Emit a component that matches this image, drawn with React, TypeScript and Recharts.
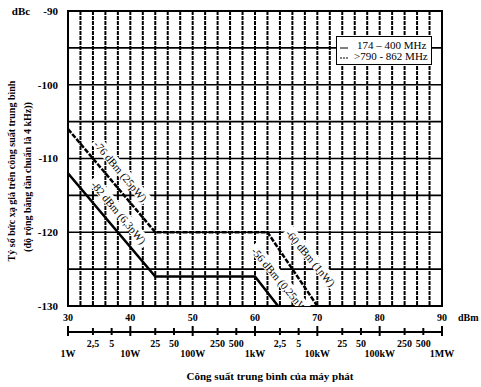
import {
  LineChart,
  Line,
  XAxis,
  YAxis,
  CartesianGrid,
  ReferenceArea,
  Legend,
} from "recharts";

// grid / axis values
const gridX = [32, 34, 36, 38, 40, 42, 44, 46, 48, 50, 52, 54, 56, 58, 60, 62, 64, 66, 68, 70, 72, 74, 76, 78, 80, 82, 84, 86, 88];
const gridY = [-125, -120, -115, -110, -105, -100, -95];
const yTicks = [-130, -120, -110, -100, -90];
const dbmTicks = [30, 40, 50, 60, 70, 80, 90];
const powerLabels = ["1W", "10W", "100W", "1kW", "10kW", "100kW", "1MW"];
const minorDbm = [34, 37, 44, 47, 54, 57, 64, 67, 74, 77, 84, 87];
const minorLabels = ["2,5", "5", "25", "50", "250", "500", "2,5", "5", "25", "50", "250", "500"];

// series
const lowDbm = [30, 44, 60, 63.7];
const lowDbc = [-112, -126, -126, -130];
const highDbm = [30, 44, 62, 70];
const highDbc = [-106, -120, -120, -130];

// line annotations
const noteText = ["-76 dBm (25pW)", "-82 dBm (6,3pW)", "-60 dBm (1nW)", "-56 dBm (0,25nW)"];
const noteDbm = [38.3, 38.0, 68.8, 64.0];
const noteDbc = [-111.8, -117.4, -123.6, -126.7];

const lowData = lowDbm.map((x, i) => ({ x, y: lowDbc[i] }));
const highData = highDbm.map((x, i) => ({ x, y: highDbc[i] }));
const noteData = noteText.map((text, i) => ({ x: noteDbm[i], y: noteDbc[i], text }));
const pwTicks = [...dbmTicks, ...minorDbm].sort((a, b) => a - b);

const serif = "'Liberation Serif', 'Times New Roman', serif";

const DbmTick = ({ x, y, payload }: any) => (
  <g fontFamily={serif} fontWeight="bold" fontSize={10} fill="#000">
    <text x={x} y={y + 15} textAnchor="middle">
      {payload.value}
    </text>
    {payload.value === 90 && (
      <text x={x + 16} y={y + 15}>
        dBm
      </text>
    )}
  </g>
);

const PowerTick = ({ x, y, payload }: any) => {
  const major = dbmTicks.indexOf(payload.value);
  const minor = minorDbm.indexOf(payload.value);
  return (
    <g fontFamily={serif} fontWeight="bold" fontSize={10} fill="#000">
      {major >= 0 ? (
        <>
          <line x1={x} x2={x} y1={y - 6} y2={y + 4} stroke="#000" strokeWidth={2} />
          <text x={x} y={y + 25} textAnchor="middle">
            {powerLabels[major]}
          </text>
        </>
      ) : (
        <>
          <line x1={x} x2={x} y1={y - 4} y2={y + 3} stroke="#000" strokeWidth={2} />
          <text x={x} y={y + 15} textAnchor="middle">
            {minorLabels[minor]}
          </text>
        </>
      )}
    </g>
  );
};

const XTitle = ({ viewBox }: any) => (
  <text
    x={viewBox.x + viewBox.width / 2 + 15}
    y={viewBox.y + 48}
    textAnchor="middle"
    fontFamily={serif}
    fontWeight="bold"
    fontSize={11}
    fill="#000"
  >
    Công suất trung bình của máy phát
  </text>
);

const YTitle = () => (
  <g fontFamily={serif} fontWeight="bold" fill="#000">
    <text x={21} y={15} textAnchor="middle" fontSize={11}>
      dBc
    </text>
    <text x={15} y={171} textAnchor="middle" fontSize={10} transform="rotate(-90 15 171)">
      Tỷ số bức xạ giả trên công suất trung bình
    </text>
    <text x={31} y={177} textAnchor="middle" fontSize={10} transform="rotate(-90 31 177)">
      (độ rộng băng tần chuẩn là 4 kHz))
    </text>
  </g>
);

const renderNote = (p: any) => {
  const { cx, cy, payload, index } = p;
  const text = payload.text;
  const w = text.length * 5.4 + 4;
  return (
    <g key={`note-${index}`} transform={`rotate(50 ${cx} ${cy})`}>
      <rect x={cx - w / 2} y={cy - 8} width={w} height={12} fill="#fff" stroke="none" />
      <text x={cx} y={cy + 3} textAnchor="middle" fontFamily={serif} fontSize={11} fill="#000">
        {text}
      </text>
    </g>
  );
};

const LegendBox = ({ payload }: any) => (
  <div
    style={{
      border: "1.5px solid #000",
      background: "#fff",
      width: 96,
      padding: "3px 0 2px 2px",
      fontFamily: serif,
      fontSize: 11,
      lineHeight: "11px",
      boxSizing: "border-box",
    }}
  >
    {(payload || [])
      .filter((p: any) => p.type !== "none" && p.value !== "y")
      .map((p: any, i: number) => (
        <div key={i} style={{ display: "flex", alignItems: "center", height: 11 }}>
          <svg width={14} height={8}>
            <line
              x1={1}
              x2={9}
              y1={i === 0 ? 6 : 5}
              y2={i === 0 ? 6 : 5}
              stroke="#000"
              strokeWidth={1}
              strokeDasharray={i === 0 ? undefined : "2 1"}
            />
          </svg>
          <span style={{ marginLeft: i === 0 ? 4 : 1 }}>{p.value}</span>
        </div>
      ))}
  </div>
);

export default function App() {
  return (
    <div style={{ position: "absolute", left: 0, top: 0, width: 481, height: 387, background: "#fff" }}>
      <LineChart width={481} height={387} margin={{ top: 11, right: 39, bottom: 0, left: 0 }}>
        <XAxis
          type="number"
          dataKey="x"
          domain={[30, 90]}
          ticks={dbmTicks}
          interval={0}
          allowDataOverflow
          axisLine={false}
          tickLine={false}
          tickSize={0}
          tickMargin={0}
          height={26}
          tick={<DbmTick />}
        />
        <XAxis
          xAxisId="pw"
          type="number"
          dataKey="x"
          domain={[30, 90]}
          ticks={pwTicks}
          interval={0}
          allowDataOverflow
          axisLine={{ stroke: "#000", strokeWidth: 2 }}
          tickLine={false}
          tickSize={0}
          tickMargin={0}
          height={55}
          tick={<PowerTick />}
          label={{ content: <XTitle /> }}
        />
        <XAxis
          xAxisId="grid"
          type="number"
          dataKey="x"
          domain={[30, 90]}
          ticks={gridX}
          interval={0}
          allowDataOverflow
          height={0}
          hide
        />
        <YAxis
          type="number"
          dataKey="y"
          domain={[-130, -90]}
          ticks={yTicks}
          interval={0}
          allowDataOverflow
          width={68}
          axisLine={false}
          tickLine={false}
          tickSize={0}
          tickMargin={10}
          tick={{ fontFamily: serif, fontWeight: "bold", fontSize: 11, fill: "#000" }}
          label={{ content: <YTitle /> }}
        />
        <YAxis
          yAxisId="grid"
          type="number"
          dataKey="y"
          domain={[-130, -90]}
          ticks={gridY}
          interval={0}
          allowDataOverflow
          width={0}
          hide
        />
        <CartesianGrid
          xAxisId="grid"
          yAxisId="grid"
          horizontal={false}
          stroke="#000"
          strokeWidth={2}
          strokeDasharray="4 1"
        />
        <CartesianGrid xAxisId="grid" yAxisId="grid" vertical={false} stroke="#000" strokeWidth={1.6} />
        <ReferenceArea x1={30} x2={90} y1={-130} y2={-90} fill="none" stroke="#000" strokeWidth={2} />
        <Line
          data={lowData}
          dataKey="y"
          name="174 – 400 MHz"
          stroke="#000"
          strokeWidth={2.5}
          dot={false}
          isAnimationActive={false}
        />
        <Line
          data={highData}
          dataKey="y"
          name=">790 - 862 MHz"
          stroke="#000"
          strokeWidth={2.5}
          strokeDasharray="5 1.5"
          dot={false}
          isAnimationActive={false}
        />
        <Line
          data={noteData}
          dataKey="y"
          stroke="none"
          legendType="none"
          dot={renderNote}
          activeDot={false}
          isAnimationActive={false}
        />
        <Legend
          layout="vertical"
          align="center"
          verticalAlign="middle"
          content={<LegendBox />}
          wrapperStyle={{ position: "absolute", left: 336, top: 36, width: 96 }}
        />
      </LineChart>
    </div>
  );
}
